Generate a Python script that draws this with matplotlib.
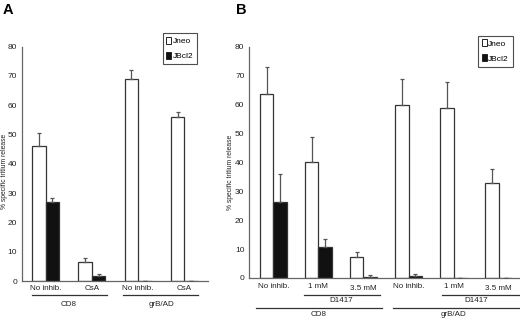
import matplotlib
matplotlib.use("Agg")
import matplotlib.pyplot as plt
import matplotlib.transforms as mtrans
from matplotlib.patches import Patch
from matplotlib.lines import Line2D
import numpy as np

plt.rcParams['font.family'] = ['Liberation Sans', 'DejaVu Sans']

# ---- data ----
series = ["Jneo", "JBcl2"]
a_cats = ["No inhib.", "CsA", "No inhib.", "CsA"]
a_jneo = [46.2, 6.6, 69.1, 56.1]
a_jneo_err = [4.5, 1.2, 2.9, 1.7]
a_jbcl2 = [26.9, 1.8, 0.0, 0.0]
a_jbcl2_err = [1.6, 0.5, 0.0, 0.0]
a_groups = ["CD8", "grB/AD"]

b_cats = ["No inhib.", "1 mM", "3.5 mM", "No inhib.", "1 mM", "3.5 mM"]
b_jneo = [63.7, 40.2, 7.4, 60.0, 58.7, 32.9]
b_jneo_err = [9.2, 8.5, 1.5, 9.0, 9.1, 4.7]
b_jbcl2 = [26.4, 10.8, 0.3, 0.6, 0.1, 0.1]
b_jbcl2_err = [9.6, 2.8, 0.6, 0.7, 0.0, 0.0]
b_groups = ["CD8", "grB/AD"]
b_sub = "D1417"

yticks = [0, 10, 20, 30, 40, 50, 60, 70, 80]
ylabel = "% specific tritium release"

W, H = 520, 321
fig = plt.figure(figsize=(W / 100, H / 100), dpi=100)

def fy(p):
    return 1 - p / H

def make_ax(left, right, ybot, ytop80):
    return fig.add_axes([left / W, fy(ybot), (right - left) / W, (ybot - ytop80) / H])

axA = make_ax(22, 208, 281, 46.7)
axB = make_ax(249.3, 520, 278, 46.7)

edge = "#333333"
spine_c = "#666666"
err_c = "#555555"

def draw(ax, jneo, jerr, jb, jberr, width, xlim):
    x = np.arange(len(jneo))
    ax.bar(x - width / 2, jneo, width, color="white", edgecolor=edge, linewidth=0.9, zorder=2)
    ax.bar(x + width / 2, jb, width, color="#111111", edgecolor=edge, linewidth=0.9, zorder=2)
    ax.errorbar(x - width / 2, jneo, yerr=[np.zeros(len(x)), jerr], fmt="none",
                ecolor=err_c, elinewidth=0.9, capsize=1.2, capthick=0.9, zorder=3)
    ax.errorbar(x + width / 2, jb, yerr=[np.zeros(len(x)), jberr], fmt="none",
                ecolor=err_c, elinewidth=0.9, capsize=1.2, capthick=0.9, zorder=3)
    ax.set_xlim(*xlim)
    ax.set_ylim(0, 80)
    ax.set_yticks(yticks)
    ax.set_xticks([])
    for s in ["top", "right"]:
        ax.spines[s].set_visible(False)
    for s in ["left", "bottom"]:
        ax.spines[s].set_color(spine_c)
        ax.spines[s].set_linewidth(0.9)
    ax.tick_params(axis="y", length=0, pad=3.5, labelsize=6.0, labelcolor="#222222")

draw(axA, a_jneo, a_jneo_err, a_jbcl2, a_jbcl2_err, 0.292, (-0.513, 3.513))
draw(axB, b_jneo, b_jneo_err, b_jbcl2, b_jbcl2_err, 0.30, (-0.532, 5.47))

fig.text(4.5 / W, fy(171), ylabel, rotation=90, fontsize=4.9, color="#222222",
         ha="center", va="center")
fig.text(231 / W, fy(172), ylabel, rotation=90, fontsize=4.9, color="#222222",
         ha="center", va="center")

def label_tools(ax):
    tr = mtrans.blended_transform_factory(ax.transData, fig.transFigure)
    def txt(x, ypix, s, size=5.8):
        ax.text(x, fy(ypix), s, transform=tr, ha="center", va="center",
                fontsize=size, color="#222222", clip_on=False)
    def line(x0, x1, ypix):
        ax.add_line(Line2D([x0, x1], [fy(ypix), fy(ypix)], transform=tr,
                           color="#333333", linewidth=0.9, clip_on=False))
    return txt, line

txt, line = label_tools(axA)
for i, c in enumerate(a_cats):
    txt(i, 289, c)
line(-0.30, 1.33, 295)
line(1.67, 3.30, 295)
txt(0.5, 304, a_groups[0])
txt(2.5, 304, a_groups[1])

txt, line = label_tools(axB)
for i, c in enumerate(b_cats):
    yy = 288.5 if c == "3.5 mM" else 286.5
    txt(i, yy, c)
line(0.68, 2.37, 294.5)
line(3.73, 5.47, 294.5)
txt(1.5, 300.7, b_sub)
txt(4.5, 300.7, b_sub)
line(-0.38, 2.40, 307.5)
line(2.66, 5.47, 307.5)
txt(1, 315, b_groups[0])
txt(4, 315, b_groups[1])

handles = [Patch(facecolor="white", edgecolor="#222222", linewidth=0.7),
           Patch(facecolor="#111111", edgecolor="#222222", linewidth=0.7)]

def legend(ax, x0, y0):
    lg = ax.legend(handles, series, loc="upper left",
                   bbox_to_anchor=(x0 / W, fy(y0)), bbox_transform=fig.transFigure,
                   fontsize=6.0, frameon=True, fancybox=False, handlelength=0.55,
                   handleheight=0.9, handletextpad=0.2, borderpad=0.45, labelspacing=0.8,
                   borderaxespad=0)
    fr = lg.get_frame()
    fr.set_edgecolor("#222222")
    fr.set_linewidth(0.8)

legend(axA, 162.7, 33.3)
legend(axB, 478.3, 35.7)

fig.text(8 / W, fy(10), "A", fontsize=10.5, fontweight="bold", ha="center", va="center")
fig.text(241 / W, fy(10), "B", fontsize=10.5, fontweight="bold", ha="center", va="center")

fig.savefig("out.png", dpi=100)
